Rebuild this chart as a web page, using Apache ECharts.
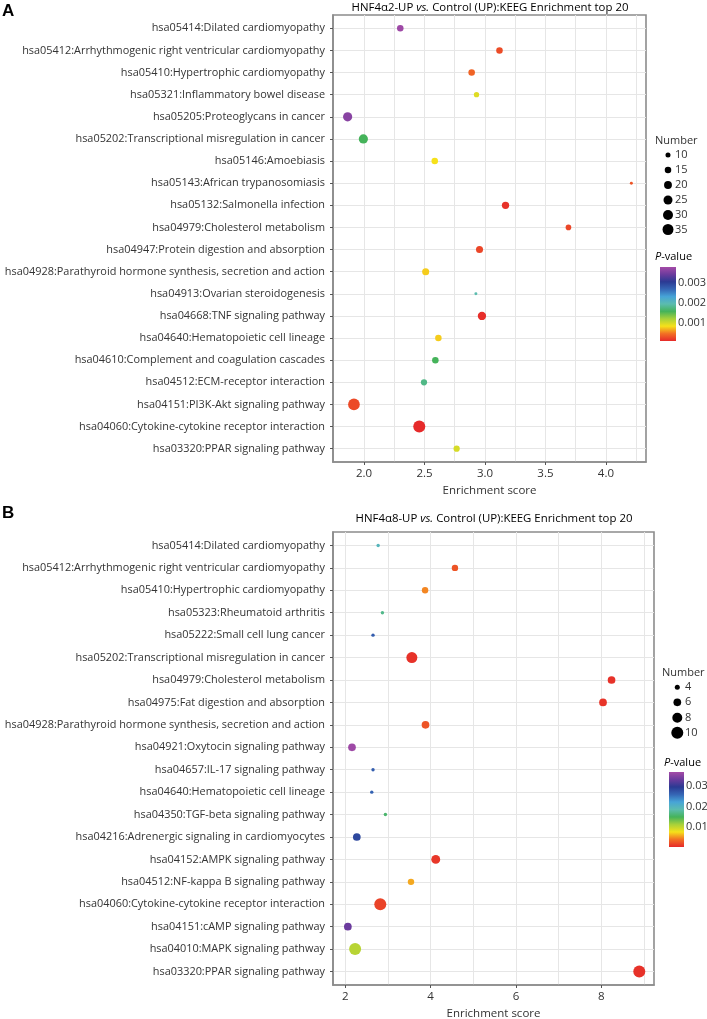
<!DOCTYPE html>
<html><head><meta charset="utf-8">
<script src="https://cdn.jsdelivr.net/npm/echarts@6/dist/echarts.min.js"></script>
<style>html,body{margin:0;padding:0;background:#fff}#c{width:707px;height:1019px}</style>
</head><body><div id="c"></div>
<script>
// ---------- Panel A data ----------
const catsA = [
  'hsa05414:Dilated cardiomyopathy',
  'hsa05412:Arrhythmogenic right ventricular cardiomyopathy',
  'hsa05410:Hypertrophic cardiomyopathy',
  'hsa05321:Inflammatory bowel disease',
  'hsa05205:Proteoglycans in cancer',
  'hsa05202:Transcriptional misregulation in cancer',
  'hsa05146:Amoebiasis',
  'hsa05143:African trypanosomiasis',
  'hsa05132:Salmonella infection',
  'hsa04979:Cholesterol metabolism',
  'hsa04947:Protein digestion and absorption',
  'hsa04928:Parathyroid hormone synthesis, secretion and action',
  'hsa04913:Ovarian steroidogenesis',
  'hsa04668:TNF signaling pathway',
  'hsa04640:Hematopoietic cell lineage',
  'hsa04610:Complement and coagulation cascades',
  'hsa04512:ECM-receptor interaction',
  'hsa04151:PI3K-Akt signaling pathway',
  'hsa04060:Cytokine-cytokine receptor interaction',
  'hsa03320:PPAR signaling pathway'
];
const scoreA = [2.30, 3.12, 2.89, 2.93, 1.865, 1.995, 2.585, 4.21, 3.17, 3.69, 2.955, 2.51, 2.925, 2.975, 2.615, 2.59, 2.496, 1.917, 2.457, 2.766];
const countA = [15, 15, 15, 11, 26, 26, 15, 5, 18, 12, 17, 17, 5, 22, 15, 15, 14, 39, 41, 14];
const pA = [0.00376, 0.00028, 0.0004, 0.00095, 0.00362, 0.00158, 0.00084, 0.00032, 0.00014, 0.00025, 0.00025, 0.00077, 0.00195, 0.00012, 0.00077, 0.00158, 0.00177, 0.00027, 0.0001, 0.00099];
const xTicksA = [2.0, 2.5, 3.0, 3.5, 4.0];
const xGridA = [2.0, 2.25, 2.5, 2.75, 3.0, 3.25, 3.5, 3.75, 4.0, 4.25];
const sizeBreaksA = [10, 15, 20, 25, 30, 35];
const pTicksA = [0.001, 0.002, 0.003];
const pRangeA = [0.0001, 0.0038];

// ---------- Panel B data ----------
const catsB = [
  'hsa05414:Dilated cardiomyopathy',
  'hsa05412:Arrhythmogenic right ventricular cardiomyopathy',
  'hsa05410:Hypertrophic cardiomyopathy',
  'hsa05323:Rheumatoid arthritis',
  'hsa05222:Small cell lung cancer',
  'hsa05202:Transcriptional misregulation in cancer',
  'hsa04979:Cholesterol metabolism',
  'hsa04975:Fat digestion and absorption',
  'hsa04928:Parathyroid hormone synthesis, secretion and action',
  'hsa04921:Oxytocin signaling pathway',
  'hsa04657:IL-17 signaling pathway',
  'hsa04640:Hematopoietic cell lineage',
  'hsa04350:TGF-beta signaling pathway',
  'hsa04216:Adrenergic signaling in cardiomyocytes',
  'hsa04152:AMPK signaling pathway',
  'hsa04512:NF-kappa B signaling pathway',
  'hsa04060:Cytokine-cytokine receptor interaction',
  'hsa04151:cAMP signaling pathway',
  'hsa04010:MAPK signaling pathway',
  'hsa03320:PPAR signaling pathway'
];
const scoreB = [2.77, 4.57, 3.87, 2.87, 2.65, 3.56, 8.24, 8.04, 3.88, 2.157, 2.65, 2.62, 2.94, 2.27, 4.12, 3.54, 2.82, 2.06, 2.23, 8.89];
const countB = [3, 5, 5, 3, 3, 9, 6, 6, 6, 6, 3, 3, 3, 6, 7, 5, 10, 6, 10, 10];
const pB = [0.0197, 0.0024, 0.0046, 0.017, 0.0267, 0.0006, 0.0006, 0.0007, 0.0024, 0.0366, 0.0267, 0.0263, 0.0157, 0.0285, 0.0009, 0.0057, 0.0015, 0.0333, 0.0105, 0.0006];
const xTicksB = [2, 4, 6, 8];
const xGridB = [2, 3, 4, 5, 6, 7, 8, 9];
const sizeBreaksB = [4, 6, 8, 10];
const pTicksB = [0.01, 0.02, 0.03];
const pRangeB = [0.0002, 0.037];

// colour ramp (low p -> high p)
const ramp = ['#e62a2a', '#f27024', '#f6e11a', '#a8d13a', '#45b35a', '#5bbcaf', '#47a4d7', '#3566b5', '#2b3a93', '#6b3b9d', '#a44ba7'];

const sizeA = n => -1.86 + 2.17 * Math.sqrt(n);
const sizeB = n => -7.06 + 6.03 * Math.sqrt(n);

const FONT = 'Open Sans';
const TXT = '#333';
const GRIDC = '#e6e6e6';
const FRAME = '#8c8c8c';
const FS = 11;

const G = [
  {left: 333, top: 15, width: 313, height: 447, xmin: 1.744, xmax: 4.331, cats: catsA, score: scoreA, count: countA, p: pA, xt: xTicksA, xg: xGridA, fmt: v => v.toFixed(1), size: sizeA, pr: pRangeA},
  {left: 333, top: 532, width: 321, height: 453, xmin: 1.712, xmax: 9.235, cats: catsB, score: scoreB, count: countB, p: pB, xt: xTicksB, xg: xGridB, fmt: v => String(v), size: sizeB, pr: pRangeB}
];

const grids = [], xAxes = [], yAxes = [], series = [], vms = [];
const rowIdx = Array.from({length: 20}, (_, i) => i);
G.forEach((g, k) => {
  grids.push({left: g.left, top: g.top, width: g.width, height: g.height, containLabel: false, outerBoundsMode: 'none',
    show: true, borderColor: FRAME, borderWidth: 1.6, backgroundColor: '#fff'});
  // gridline axis
  xAxes.push({type: 'value', gridIndex: k, min: g.xmin, max: g.xmax, position: 'bottom',
    axisLine: {show: false}, axisLabel: {show: false},
    axisTick: {show: false, customValues: g.xg},
    splitLine: {show: true, lineStyle: {color: GRIDC, width: 1}}});
  // label axis
  xAxes.push({type: 'value', gridIndex: k, min: g.xmin, max: g.xmax, position: 'bottom',
    axisLine: {show: true, onZero: false, lineStyle: {color: FRAME, width: 1.6}},
    axisTick: {show: true, length: 3, customValues: g.xt, lineStyle: {color: '#555'}},
    axisLabel: {show: true, customValues: g.xt, formatter: g.fmt, color: TXT, fontFamily: FONT, fontSize: 11.5, margin: 6},
    splitLine: {show: false},
    name: 'Enrichment score', nameLocation: 'middle', nameGap: 23,
    nameTextStyle: {color: TXT, fontFamily: FONT, fontSize: 11.5}});
  yAxes.push({type: 'value', gridIndex: k, min: -0.6, max: 19.6, inverse: true,
    axisLine: {show: true, onZero: false, lineStyle: {color: FRAME, width: 1.6}},
    axisTick: {show: true, length: 3, customValues: rowIdx, lineStyle: {color: '#555'}},
    axisLabel: {show: true, customValues: rowIdx, formatter: v => g.cats[Math.round(v)], color: TXT, fontFamily: FONT, fontSize: 10.9, margin: 8},
    splitLine: {show: true, lineStyle: {color: GRIDC, width: 1}}});
  series.push({type: 'scatter', xAxisIndex: 2 * k, yAxisIndex: k,
    data: g.score.map((s, i) => [s, i, g.count[i], g.p[i]]),
    symbolSize: d => g.size(d[2]),
    itemStyle: {opacity: 1}, emphasis: {disabled: true}, silent: true});
  vms.push({type: 'continuous', show: false, seriesIndex: k, dimension: 3, min: g.pr[0], max: g.pr[1], inRange: {color: ramp}});
});

// legends (graphic)
const graphic = [];
function t(x, y, text, opt) {
  return Object.assign({type: 'text', x: x, y: y, silent: true,
    style: Object.assign({text: text, fill: TXT, font: FS + 'px "' + FONT + '"', textVerticalAlign: 'middle'}, opt || {})});
}
// panel letters
graphic.push(t(2, 11, 'A', {font: 'bold 17px "Liberation Sans"', fill: '#000'}));
graphic.push(t(2, 513, 'B', {font: 'bold 17px "Liberation Sans"', fill: '#000'}));
// titles
function title(x, y, name) {
  return {type: 'text', x: x, y: y, silent: true, style: {
    text: '{n|' + name + '-UP }{i|vs.}{n| Control (UP):KEEG Enrichment top 20}',
    textAlign: 'center', textVerticalAlign: 'middle',
    rich: {n: {fontFamily: FONT, fontSize: 11.4, color: TXT}, i: {fontFamily: FONT, fontSize: 11.4, fontStyle: 'italic', color: TXT}}}};
}
graphic.push(title(490, 8, 'HNF4α2'));
graphic.push(title(494, 519, 'HNF4α8'));

function sizeLegend(g, x0, yTitle, ys, breaks, cx, lx) {
  graphic.push(t(x0, yTitle, 'Number'));
  breaks.forEach((b, i) => {
    const r = g.size(b) / 2;
    graphic.push({type: 'circle', silent: true, shape: {cx: cx, cy: ys[i], r: r}, style: {fill: '#000'}});
    graphic.push(t(lx, ys[i], String(b)));
  });
}
function colorBar(g, x0, yTitle, bx, by, bw, bh, ticks, lx) {
  graphic.push({type: 'text', x: x0, y: yTitle, silent: true, style: {
    text: '{i|P}{n|-value}', textVerticalAlign: 'middle',
    rich: {n: {fontFamily: FONT, fontSize: FS, color: TXT}, i: {fontFamily: FONT, fontSize: FS, fontStyle: 'italic', color: TXT}}}});
  const stops = ramp.map((c, i) => ({offset: i / (ramp.length - 1), color: c}));
  graphic.push({type: 'rect', silent: true, shape: {x: bx, y: by, width: bw, height: bh},
    style: {fill: {type: 'linear', x: 0, y: 1, x2: 0, y2: 0, colorStops: stops}}});
  ticks.forEach(v => {
    const y = by + bh - (v - g.pr[0]) / (g.pr[1] - g.pr[0]) * bh;
    graphic.push(t(lx, y, String(v)));
  });
}
sizeLegend(G[0], 655, 141, [155, 170, 185, 200, 215, 229.5], sizeBreaksA, 668, 675);
colorBar(G[0], 655, 257, 660, 267, 16, 74, pTicksA, 678);
sizeLegend(G[1], 662, 672.5, [687.3, 702.3, 717.7, 732.7], sizeBreaksB, 677.3, 685);
colorBar(G[1], 664, 763, 669, 772, 15, 75, pTicksB, 686);

const chart = echarts.init(document.getElementById('c'));
chart.setOption({
  animation: false,
  backgroundColor: '#fff',
  textStyle: {fontFamily: FONT},
  grid: grids, xAxis: xAxes, yAxis: yAxes, series: series, visualMap: vms,
  graphic: graphic
});
</script></body></html>
